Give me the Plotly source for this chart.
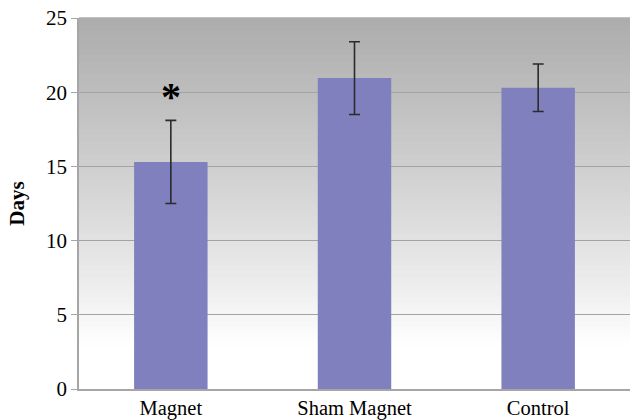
import plotly.graph_objects as go

categories = ["Magnet", "Sham Magnet", "Control"]
means = [15.3, 20.95, 20.3]
errors = [2.8, 2.45, 1.6]
y_ticks = [0, 5, 10, 15, 20, 25]
star_label = "<b>*</b>"

fig = go.Figure()
fig.add_trace(go.Bar(
    x=categories, y=means,
    marker=dict(color="#8080BF", line=dict(width=0)),
    error_y=dict(type="data", array=errors, visible=True, color="#2b2b2b", thickness=1.6, width=5.5),
    showlegend=False,
))

# significance marker above first bar's error bar
fig.add_annotation(x=categories[0], y=means[0] + errors[0], text=star_label, showarrow=False,
                   yshift=24, font=dict(family="Liberation Serif", size=40, color="black"), yanchor="middle")

# gradient background strips
n = 60
top = (172, 172, 172)
for i in range(n):
    y0 = i / n
    y1 = (i + 1) / n
    t = (y0 + y1) / 2
    f = max(0.0, (t - 0.12) / 0.88)
    f = f ** 0.9
    c = tuple(int(round(255 + (tc - 255) * f)) for tc in top)
    fig.add_shape(type="rect", xref="paper", yref="paper", x0=0, x1=1, y0=y0, y1=y1 + 0.002,
                  fillcolor="rgb(%d,%d,%d)" % c, line=dict(width=0), layer="below")

fig.update_layout(
    width=630, height=420,
    margin=dict(l=79, r=0, t=18, b=31),
    paper_bgcolor="white",
    plot_bgcolor="rgba(0,0,0,0)",
    bargap=0.6,
    font=dict(family="Liberation Serif", size=20, color="black"),
)
fig.update_xaxes(showline=True, linecolor="#a6a6a6", linewidth=1.5, ticks="", tickfont=dict(size=20.5),
                 showgrid=False)
fig.update_yaxes(range=[0, 25], tickvals=y_ticks, showgrid=True, gridcolor="#a3a3a3", gridwidth=1,
                 showline=True, linecolor="#a6a6a6", linewidth=1.5, ticks="outside", ticklen=6,
                 tickcolor="#a6a6a6", tickfont=dict(size=21), zeroline=False,
                 title=dict(text="<b>Days</b>", font=dict(family="Liberation Serif", size=21), standoff=16))

fig.write_html("out.html", config={"displayModeBar": False},
               post_script="document.body.style.margin='0';document.body.style.overflow='hidden';")
